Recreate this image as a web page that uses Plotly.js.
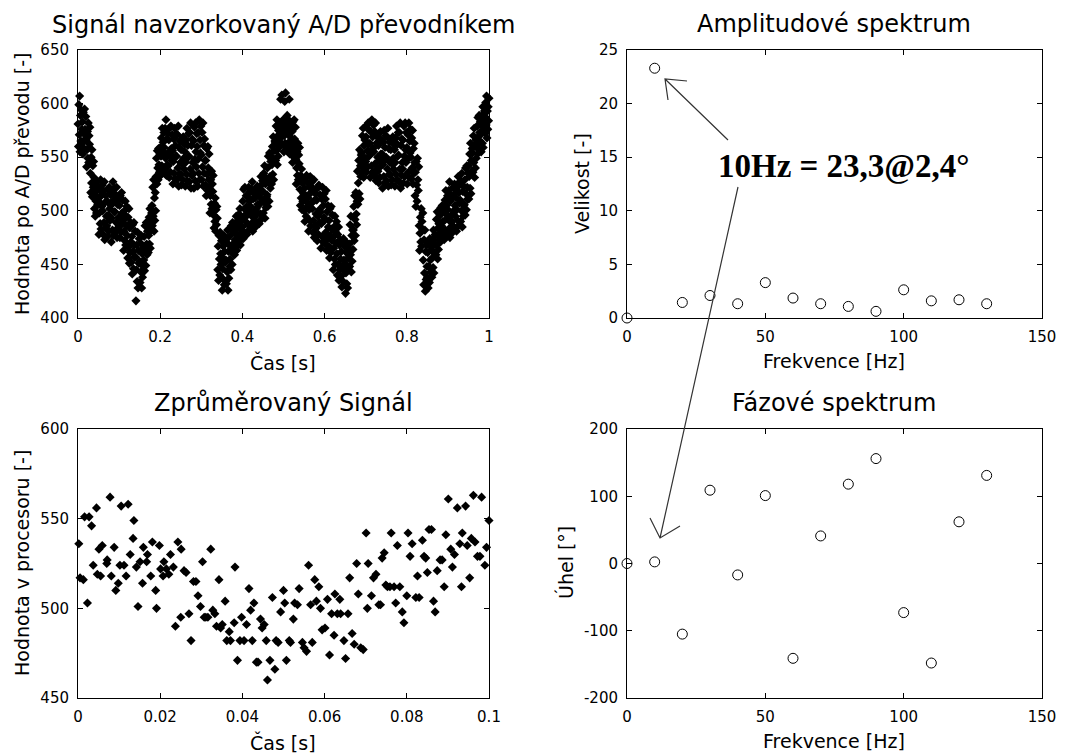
<!DOCTYPE html>
<html><head><meta charset="utf-8">
<script src="https://cdn.plot.ly/plotly-3.0.1.min.js"></script>
<style>html,body{margin:0;padding:0;background:#fff}#chart{width:1068px;height:755px}</style>
</head><body><div id="chart"></div>
<script>
// ---- data ----
const sampleRateHz = 1000;
const adSignal = [
581,560,599,571,607,555,589,565,594,576,
563,583,553,592,572,558,595,576,567,588,
566,541,557,574,549,582,545,570,562,578,
535,517,550,526,557,513,542,522,546,531,
502,518,495,525,509,498,527,513,506,522,
509,478,498,519,488,529,483,514,504,524,
500,478,519,489,527,473,508,484,514,495,
486,509,476,520,496,481,522,502,491,515,
505,471,493,516,482,527,477,510,499,521,
499,480,515,489,522,475,506,484,510,494,
485,505,475,514,494,480,517,498,489,510,
491,463,481,500,472,509,468,495,486,504,
477,456,494,466,502,451,484,461,489,471,
452,476,441,487,462,446,489,468,457,481,
457,416,445,468,434,480,428,463,451,474,
453,433,470,443,477,428,460,438,465,448,
454,476,444,486,464,449,489,469,459,481,
486,461,477,494,469,502,465,490,482,498,
505,486,522,495,529,481,512,491,517,500,
532,549,525,556,540,529,558,543,536,553,
559,533,551,568,542,577,537,564,555,573,
559,538,577,549,585,533,567,543,572,554,
542,566,531,577,552,536,579,558,547,571,
556,525,546,567,535,577,530,561,551,572,
551,529,571,540,579,523,559,534,565,545,
534,557,524,567,544,529,569,549,539,562,
555,523,545,566,534,577,528,561,550,572,
551,527,573,539,582,521,561,533,567,545,
535,565,521,578,548,528,582,555,541,572,
560,523,548,573,535,585,529,566,554,579,
552,529,573,541,582,523,561,535,567,547,
524,547,514,558,534,519,560,540,529,553,
521,498,514,529,506,537,502,525,518,533,
496,484,507,490,512,481,501,487,504,493,
445,467,435,477,455,440,480,460,450,472,
457,426,446,467,436,477,431,462,452,472,
454,432,474,443,482,426,462,437,468,448,
455,477,445,486,465,450,489,469,460,481,
481,459,473,488,466,495,463,484,477,491,
485,471,497,478,502,468,490,475,494,482,
485,509,474,520,495,479,522,501,490,514,
504,478,496,513,487,522,482,509,500,518,
504,486,520,495,527,481,511,490,516,499,
494,512,485,521,502,489,523,506,498,517,
514,488,506,523,497,532,492,519,510,528,
518,498,535,508,542,493,525,503,530,513,
515,540,504,551,526,509,554,532,521,546,
551,525,543,560,534,569,529,556,547,565,
564,547,579,556,585,543,570,551,575,560,
567,582,560,604,573,563,608,577,570,585,
578,555,570,602,563,610,559,582,574,589,
572,557,585,564,604,553,578,561,582,568,
554,574,545,583,563,550,585,567,558,578,
548,525,540,555,533,563,529,552,544,559,
520,505,533,512,539,501,526,509,530,516,
500,521,490,530,509,495,533,514,504,526,
512,481,501,522,491,532,486,517,507,527,
502,480,521,491,529,475,510,486,516,497,
484,510,472,521,495,478,524,501,489,515,
499,465,488,511,476,522,471,505,494,516,
491,469,511,480,519,463,499,474,505,485,
467,491,456,502,477,461,504,483,472,496,
475,445,465,485,455,495,450,480,470,490,
460,440,478,450,485,435,468,445,473,455,
439,462,429,472,449,434,474,454,444,467,
451,423,442,461,432,470,428,456,447,465,
469,448,487,459,495,443,477,453,482,464,
482,504,472,514,492,477,517,497,487,509,
537,506,526,547,516,557,511,542,532,552,
554,536,570,545,577,531,561,540,566,549,
546,569,536,580,556,541,582,562,551,575,
563,531,553,574,542,585,536,569,558,580,
555,533,574,544,582,528,563,539,569,550,
537,561,526,572,547,531,574,553,542,566,
553,521,543,564,532,575,526,559,548,570,
550,528,569,539,577,523,558,534,564,545,
534,557,524,567,544,529,569,549,539,562,
557,523,545,568,534,579,529,562,551,573,
552,527,573,539,582,521,561,533,567,545,
539,566,526,579,551,532,582,557,545,573,
559,525,548,571,536,582,531,565,554,576,
550,530,568,540,575,525,558,535,563,545,
514,536,504,546,524,509,549,529,519,541,
486,463,479,494,471,502,467,490,483,498,
454,431,473,442,482,425,462,436,468,448,
438,461,428,472,448,433,474,454,443,467,
464,438,456,473,447,482,442,469,460,478,
477,459,492,468,499,455,484,464,488,473,
479,496,471,503,486,475,505,490,482,499,
501,473,491,510,482,519,478,505,496,514,
501,480,519,491,527,475,509,485,514,496,
490,512,480,522,500,485,525,505,495,517,
512,481,501,522,491,532,486,517,507,527,
510,490,528,500,535,485,518,495,523,505,
506,529,496,540,516,501,542,522,511,535,
542,511,532,553,521,563,516,547,537,558,
554,536,570,545,577,531,561,540,566,549,
561,579,553,587,569,557,589,573,565,583,
580,555,572,589,563,597,559,584,576,593,
588,572,601,580,607,568,593,576,597,584,
605];

const avgTimeMs = [
0.2,0.5,1.3,1.6,2.3,2.7,3.3,3.7,4.5,4.7,5.1,5.5,5.9,7.0,7.1,7.8,8.1,8.8,9.2,9.8,
10.2,10.5,11.2,11.7,12.2,12.7,13.4,13.6,14.2,14.6,15.1,15.7,15.9,16.7,16.9,17.7,18.1,18.9,19.1,19.8,
20.1,20.7,20.9,21.5,22.1,22.5,23.2,23.7,24.3,25.0,25.1,25.8,26.3,27.0,27.5,28.1,28.7,29.2,29.8,
30.3,30.7,31.1,31.6,32.3,32.8,33.3,33.7,34.3,34.7,35.1,35.8,36.2,36.8,37.1,38.0,38.2,38.8,39.4,39.8,
40.4,41.0,41.6,42.0,42.4,42.8,43.4,43.8,44.4,44.8,45.3,45.8,46.1,46.7,47.3,47.9,48.2,48.7,49.3,
50.0,50.3,50.7,51.4,51.7,52.4,52.7,53.4,53.8,54.6,55.0,55.6,56.1,56.6,57.0,57.6,58.0,58.6,59.0,59.4,
60.1,60.7,61.2,61.7,62.3,62.5,63.1,63.7,63.9,64.7,65.1,65.7,66.1,66.7,67.2,67.8,68.2,68.8,69.4,
70.1,70.4,70.6,71.4,71.9,72.5,73.2,73.6,74.0,74.5,74.9,75.3,75.9,76.2,76.9,77.3,77.7,78.3,78.9,79.3,
80.0,80.3,80.8,81.3,82.2,82.6,83.0,83.8,84.2,84.6,85.0,85.4,86.0,86.5,86.9,87.4,88.1,88.6,89.1,89.5,
90.1,90.7,91.1,91.6,92.3,92.9,93.3,93.5,94.3,94.7,95.3,95.7,96.2,96.6,97.2,97.8,98.2,99.0,99.4,100.0];
const avgValue = [
536,517,516,551,503,551,546,524,556,519,533,518,535,525,527,562,518,534,510,514,
524,557,524,518,558,530,539,549,523,501,526,514,534,526,530,518,537,510,500,535,
522,518,526,522,519,530,523,490,537,495,533,521,520,497,482,515,515,507,501,
526,495,495,495,533,499,497,490,516,489,491,504,482,487,482,492,523,471,482,495,
482,491,511,499,482,503,470,470,494,489,491,482,460,471,506,466,482,481,498,
510,503,471,482,481,494,503,502,511,481,478,476,524,502,481,516,504,512,500,488,
489,505,474,497,485,508,497,505,497,482,472,497,517,486,480,525,508,478,477,
542,500,525,507,517,519,502,502,528,531,513,512,512,542,512,503,535,512,498,492,
507,542,529,536,506,518,506,538,529,528,520,544,544,504,498,521,527,527,512,541,
561,533,523,530,556,536,512,542,557,535,517,539,563,537,529,529,562,524,534,549];

const freqHz    = [0, 10, 20, 30, 40, 50, 60, 70, 80, 90, 100, 110, 120, 130];
const amplitude = [0, 23.3, 1.45, 2.1, 1.33, 3.3, 1.86, 1.33, 1.08, 0.62, 2.63, 1.6, 1.7, 1.33];
const phaseDeg  = [0, 2.4, -105, 109, -17, 101, -141, 41, 118, 156, -73, -148, 62, 131];
const phaseTickVals = [-200, -100, 0, 100, 200];
const phaseTickText = ['-200', '-100', '0', '100', '200'];

// ---- layout helpers ----
const W = 1068, H = 755;
const px = x => x / W, py = y => 1 - y / H;
const FONT = 'DejaVu Sans';

const adTime = adSignal.map((_, i) => i / sampleRateHz);
const avgTime = avgTimeMs.map(v => v / 1000);

function axis(domain, range, anchor, extra) {
  return Object.assign({
    domain, range, anchor, showline: true, mirror: 'ticks', linecolor: '#000', linewidth: 1,
    ticks: 'inside', ticklen: 5, tickcolor: '#000', showgrid: false, zeroline: false,
    ticklabelstandoff: 5,
    tickfont: {family: FONT, size: 15, color: '#000'}, fixedrange: true
  }, extra || {});
}
const xL = [px(78), px(489)], xR = [px(627), px(1042)];
const yT = [py(318), py(50)], yB = [py(698), py(429)];

const mk = {color: '#000', size: 7, symbol: 'diamond', line: {width: 0}};
const circ = {color: '#000', size: 10, symbol: 'circle-open', line: {width: 1, color: '#000'}};

const data = [
  {x: adTime, y: adSignal, mode: 'markers', type: 'scatter', marker: mk, xaxis: 'x', yaxis: 'y', cliponaxis: false, hoverinfo: 'skip'},
  {x: avgTime, y: avgValue, mode: 'markers', type: 'scatter', marker: mk, xaxis: 'x2', yaxis: 'y2', cliponaxis: false},
  {x: freqHz, y: amplitude, mode: 'markers', type: 'scatter', marker: circ, xaxis: 'x3', yaxis: 'y3', cliponaxis: false},
  {x: freqHz, y: phaseDeg, mode: 'markers', type: 'scatter', marker: circ, xaxis: 'x4', yaxis: 'y4', cliponaxis: false}
];

function txt(text, x, y, size, extra) {
  return Object.assign({text, x: px(x), y: py(y), xref: 'paper', yref: 'paper', showarrow: false,
    xanchor: 'center', yanchor: 'middle', font: {family: FONT, size, color: '#000'}}, extra || {});
}
const annotations = [
  txt('Signál navzorkovaný A/D převodníkem', 283, 25, 24),
  txt('Zprůměrovaný Signál', 283, 403, 24),
  txt('Amplitudové spektrum', 834, 24, 24),
  txt('Fázové spektrum', 834, 403, 24),
  txt('Čas [s]', 283, 362, 19),
  txt('Čas [s]', 283, 742, 19),
  txt('Frekvence [Hz]', 834, 361, 19),
  txt('Frekvence [Hz]', 834, 741, 19),
  txt('Hodnota po A/D převodu [-]', 22, 184, 19, {textangle: -90}),
  txt('Hodnota v procesoru [-]', 22, 563, 19, {textangle: -90}),
  txt('Velikost [-]', 582, 184, 19, {textangle: -90}),
  txt('Úhel [°]', 565, 563, 19, {textangle: -90}),
  {text: '<b>10Hz = 23,3@2,4°</b>', x: px(844), y: py(166), xref: 'paper', yref: 'paper', showarrow: false,
   xanchor: 'center', yanchor: 'middle', font: {family: 'Liberation Serif', size: 33, color: '#000'}}
];

function path(pts) {
  return pts.map((seg) => seg.map((p, i) => (i ? 'L' : 'M') + px(p[0]).toFixed(5) + ',' + py(p[1]).toFixed(5)).join(' ')).join(' ');
}
const arrowStyle = {color: '#333', width: 1.2};
const shapes = [
  {type: 'path', xref: 'paper', yref: 'paper', line: arrowStyle,
   path: path([[[728, 140], [665, 79]], [[687, 81], [665, 79], [668, 100]]])},
  {type: 'path', xref: 'paper', yref: 'paper', line: arrowStyle,
   path: path([[[738, 187], [660, 538]], [[650, 518], [660, 538], [680, 526]]])}
];

const layout = {
  width: W, height: H, margin: {l: 0, r: 0, t: 0, b: 0}, paper_bgcolor: '#fff', plot_bgcolor: '#fff',
  showlegend: false, hovermode: false,
  xaxis: axis(xL, [0, 1], 'y', {tickvals: [0, 0.2, 0.4, 0.6, 0.8, 1]}),
  yaxis: axis(yT, [400, 650], 'x', {tickvals: [400, 450, 500, 550, 600, 650]}),
  xaxis2: axis(xL, [0, 0.1], 'y2', {tickvals: [0, 0.02, 0.04, 0.06, 0.08, 0.1]}),
  yaxis2: axis(yB, [450, 600], 'x2', {tickvals: [450, 500, 550, 600]}),
  xaxis3: axis(xR, [0, 150], 'y3', {tickvals: [0, 50, 100, 150]}),
  yaxis3: axis(yT, [0, 25], 'x3', {tickvals: [0, 5, 10, 15, 20, 25]}),
  xaxis4: axis(xR, [0, 150], 'y4', {tickvals: [0, 50, 100, 150]}),
  yaxis4: axis(yB, [-200, 200], 'x4', {tickvals: phaseTickVals, ticktext: phaseTickText}),
  annotations, shapes
};
Plotly.newPlot('chart', data, layout, {staticPlot: true, displayModeBar: false});
</script>
</body></html>
